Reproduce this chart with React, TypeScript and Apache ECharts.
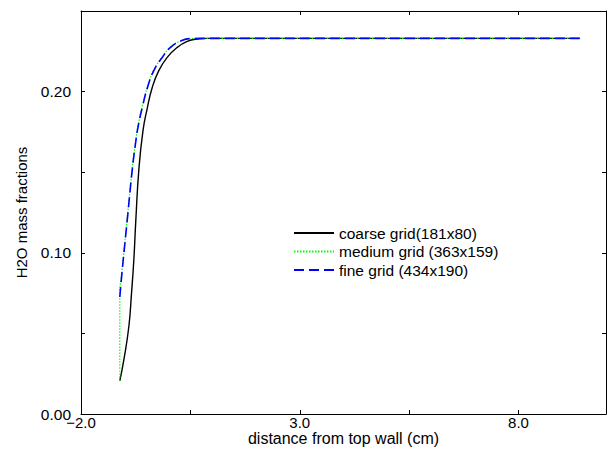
import React, { useEffect, useRef } from 'react';
import * as echarts from 'echarts';

const seriesNames = ['coarse grid(181x80)', 'medium grid (363x159)', 'fine grid (434x190)'];

const coarseX = [-1.113, -1.022, -0.907, -0.846, -0.793, -0.747, -0.679, -0.583, -0.487, -0.373, -0.222, -0.03, 0.199, 0.427, 0.656, 0.885, 1.097, 9.4];
const coarseY = [0.0206, 0.0334, 0.0541, 0.0747, 0.0954, 0.1201, 0.1511, 0.1758, 0.1895, 0.2024, 0.213, 0.2212, 0.2274, 0.2311, 0.2326, 0.233, 0.233, 0.233];

const mediumX = [-1.113, -1.113, -1.06, -0.946, -0.832, -0.757, -0.689, -0.597, -0.49, -0.34, -0.147, 0.043, 0.272, 0.5, 0.73, 9.4];
const mediumY = [0.0206, 0.075, 0.0895, 0.1205, 0.1515, 0.1682, 0.18, 0.191, 0.2021, 0.2132, 0.2213, 0.2275, 0.2314, 0.2329, 0.233, 0.233];

const fineX = [-1.113, -1.058, -0.944, -0.83, -0.754, -0.686, -0.594, -0.487, -0.336, -0.144, 0.046, 0.275, 0.503, 0.731, 9.4];
const fineY = [0.0726, 0.0892, 0.1201, 0.1511, 0.1678, 0.1796, 0.1907, 0.2019, 0.213, 0.2212, 0.2274, 0.2313, 0.2329, 0.233, 0.233];

const xLabelValues = [-2, 3, 8];
const xLabelTexts = ['\u22122.0', '3.0', '8.0'];
const yLabelValues = [0, 0.1, 0.2];
const yLabelTexts = ['0.00', '0.10', '0.20'];

const xName = 'distance from top wall (cm)';
const yName = 'H2O mass fractions';

const FONT = 'Liberation Sans, Arial, Helvetica, sans-serif';

function pairs(xs: number[], ys: number[]) {
  return xs.map((x, i) => [x, ys[i]]);
}

function pickLabel(v: number, values: number[], texts: string[]) {
  for (let i = 0; i < values.length; i++) {
    if (Math.abs(v - values[i]) < 1e-6) return texts[i];
  }
  return '';
}

export default function App() {
  const ref = useRef<HTMLDivElement>(null);
  useEffect(() => {
    if (!ref.current) return;
    const chart = echarts.init(ref.current, undefined, { renderer: 'svg' });
    const axisLine = { show: true, onZero: false, lineStyle: { color: '#000', width: 1 } };
    const tick = { show: true, inside: true, length: 4, lineStyle: { color: '#000', width: 1 } };
    chart.setOption({
      animation: false,
      backgroundColor: '#fff',
      grid: { left: 81, right: 2, top: 11, bottom: 39, containLabel: false, outerBoundsMode: 'none' },
      legend: {
        orient: 'vertical',
        left: 288,
        top: 220,
        itemWidth: 40,
        itemHeight: 14,
        itemGap: 2.5,
        data: seriesNames,
        itemStyle: { opacity: 0 },
        textStyle: { fontFamily: FONT, fontSize: 15.5, lineHeight: 16, color: '#000' },
        selectedMode: false,
      },
      xAxis: [
        {
          type: 'value',
          min: -2,
          max: 10,
          interval: 2.5,
          position: 'bottom',
          axisLine,
          axisTick: tick,
          splitLine: { show: false },
          axisLabel: {
            fontFamily: FONT,
            fontSize: 15,
            color: '#000',
            margin: 1,
            formatter: (v: number) => pickLabel(v, xLabelValues, xLabelTexts),
          },
          name: xName,
          nameLocation: 'middle',
          nameGap: 16,
          nameMoveOverlap: false,
          nameTextStyle: { fontFamily: FONT, fontSize: 16, color: '#000', verticalAlign: 'top' },
        },
        {
          type: 'value',
          min: -2,
          max: 10,
          interval: 2.5,
          position: 'top',
          axisLine,
          axisTick: tick,
          splitLine: { show: false },
          axisLabel: { show: false },
        },
      ],
      yAxis: [
        {
          type: 'value',
          min: 0,
          max: 0.25,
          interval: 0.05,
          position: 'left',
          axisLine,
          axisTick: tick,
          splitLine: { show: false },
          axisLabel: {
            fontFamily: FONT,
            fontSize: 15.5,
            color: '#000',
            margin: 10,
            formatter: (v: number) => pickLabel(v, yLabelValues, yLabelTexts),
          },
          name: yName,
          nameLocation: 'middle',
          nameGap: 52,
          nameRotate: 90,
          nameMoveOverlap: false,
          nameTextStyle: { fontFamily: FONT, fontSize: 15, color: '#000' },
        },
        {
          type: 'value',
          min: 0,
          max: 0.25,
          interval: 0.05,
          position: 'right',
          axisLine,
          axisTick: tick,
          splitLine: { show: false },
          axisLabel: { show: false },
        },
      ],
      series: [
        {
          name: seriesNames[0],
          type: 'line',
          data: pairs(coarseX, coarseY),
          symbol: 'none',
          smooth: 0.5,
          lineStyle: { color: '#000', width: 1.4, type: 'solid' },
          itemStyle: { color: '#000' },
        },
        {
          name: seriesNames[1],
          type: 'line',
          data: pairs(mediumX, mediumY),
          symbol: 'none',
          smooth: 0.4,
          lineStyle: { color: '#00ff00', width: 1.2, type: [1.5, 1.5] },
          itemStyle: { color: '#00ff00' },
        },
        {
          name: seriesNames[2],
          type: 'line',
          data: pairs(fineX, fineY),
          symbol: 'none',
          smooth: 0.5,
          lineStyle: { color: '#0000ff', width: 1.6, type: [10, 5] },
          itemStyle: { color: '#0000ff' },
        },
      ],
    });
    return () => chart.dispose();
  }, []);
  return (
    <div
      ref={ref}
      style={{ position: 'absolute', left: 0, top: 0, width: 608, height: 453, background: '#fff' }}
    />
  );
}
